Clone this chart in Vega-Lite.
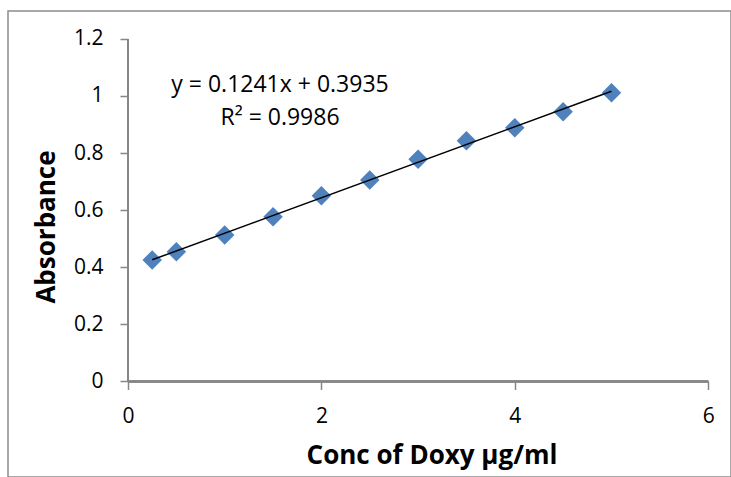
{
  "$schema": "https://vega.github.io/schema/vega-lite/v6.json",
  "width": 723,
  "height": 466,
  "autosize": {"type": "none"},
  "padding": {"left": 8, "top": 11, "right": 0, "bottom": 0},
  "background": "white",
  "view": {"stroke": "#8c8c8c", "strokeWidth": 1.5},
  "config": {
    "font": "Open Sans",
    "axis": {
      "grid": false,
      "domain": false,
      "tickColor": "#868686",
      "tickWidth": 1.5,
      "tickSize": 8,
      "labelFont": "Open Sans",
      "labelFontSize": 21,
      "labelColor": "#000000",
      "labelOverlap": false,
      "labelFlush": false,
      "format": "~g",
      "titleFont": "Open Sans",
      "titleFontSize": 26,
      "titleFontWeight": "bold",
      "titleColor": "#000000"
    }
  },
  "data": {
    "values": [
      {"conc": 0.25, "abs": 0.4256},
      {"conc": 0.5, "abs": 0.4546},
      {"conc": 1, "abs": 0.5131},
      {"conc": 1.5, "abs": 0.5772},
      {"conc": 2, "abs": 0.6508},
      {"conc": 2.5, "abs": 0.7058},
      {"conc": 3, "abs": 0.7783},
      {"conc": 3.5, "abs": 0.8434},
      {"conc": 4, "abs": 0.889},
      {"conc": 4.5, "abs": 0.945},
      {"conc": 5, "abs": 1.0116}
    ]
  },
  "layer": [
    {
      "mark": {"type": "rule", "color": "#868686", "strokeWidth": 1.5},
      "encoding": {
        "x": {"datum": 0, "type": "quantitative", "scale": {"domain": [-1.241, 6.236], "nice": false, "zero": false}},
        "x2": {"datum": 6},
        "y": {"datum": 0, "type": "quantitative", "scale": {"domain": [-0.3345, 1.2977], "nice": false, "zero": false}}
      }
    },
    {
      "mark": {"type": "rule", "color": "#868686", "strokeWidth": 1.5},
      "encoding": {
        "x": {"datum": 0, "type": "quantitative"},
        "y": {"datum": 0, "type": "quantitative"},
        "y2": {"datum": 1.2}
      }
    },
    {
      "mark": {"type": "point", "shape": "diamond", "filled": true, "size": 380, "color": "#4F81BD", "opacity": 1},
      "encoding": {
        "x": {
          "field": "conc",
          "type": "quantitative",
          "title": "Conc of Doxy µg/ml",
          "axis": {
            "values": [0, 2, 4, 6],
            "format": "~g",
            "offset": -95.5,
            "labelPadding": 16,
            "titleX": 423.5,
            "titleY": 82,
            "titleAlign": "center",
            "titleBaseline": "alphabetic"
          }
        },
        "y": {
          "field": "abs",
          "type": "quantitative",
          "title": "Absorbance",
          "axis": {
            "values": [0, 0.2, 0.4, 0.6, 0.8, 1, 1.2],
            "format": "~g",
            "offset": -120,
            "labelPadding": 17,
            "titleX": -74,
            "titleY": 215.5,
            "titleAngle": -90,
            "titleAlign": "center",
            "titleBaseline": "alphabetic"
          }
        }
      }
    },
    {
      "transform": [{"regression": "abs", "on": "conc", "extent": [0.25, 5]}],
      "mark": {"type": "line", "color": "#000000", "strokeWidth": 1.5},
      "encoding": {
        "x": {"field": "conc", "type": "quantitative"},
        "y": {"field": "abs", "type": "quantitative"}
      }
    },
    {
      "data": {"values": [{"label": "eq"}]},
      "mark": {
        "type": "text",
        "text": ["y = 0.1241x + 0.3935", "R² = 0.9986"],
        "font": "Open Sans",
        "fontSize": 23,
        "fontWeight": "normal",
        "lineHeight": 33,
        "align": "center",
        "baseline": "alphabetic",
        "fill": "#000000"
      },
      "encoding": {
        "x": {"datum": 1.572, "type": "quantitative"},
        "y": {"datum": 1.014, "type": "quantitative"}
      }
    }
  ]
}
